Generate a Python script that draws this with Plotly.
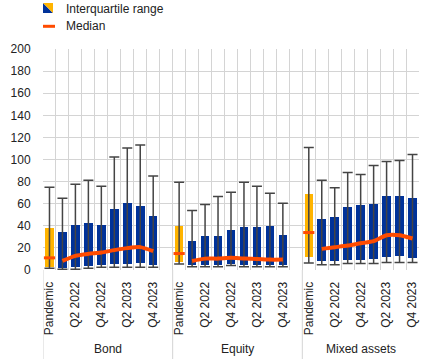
import plotly.graph_objects as go

groups = ["Bond", "Equity", "Mixed assets"]
periods = ["Pandemic", "Q1 2022", "Q2 2022", "Q3 2022", "Q4 2022",
           "Q1 2023", "Q2 2023", "Q3 2023", "Q4 2023"]
shown_labels = ["Pandemic", "Q2 2022", "Q4 2022", "Q2 2023", "Q4 2023"]

# Bond
bond_q1 = [3, 1.5, 2.4, 3.3, 4.3, 5.2, 5.2, 6.1, 4.3]
bond_q3 = [38, 34, 40.5, 42.3, 40.5, 55, 60.6, 57.8, 48.7]
bond_lo = [1.5, 0.6, 0.6, 1.5, 2.4, 2.4, 2.4, 2.4, 2.4]
bond_hi = [75, 65, 77.6, 81.2, 75.8, 102.2, 110.5, 113.2, 85]
bond_med = [11, 8.2, 12.8, 14.6, 15.8, 18, 19.8, 20.7, 17]

# Equity
eq_q1 = [7.6, 4.6, 4.6, 4.6, 5.2, 4.6, 4.6, 4.6, 4.6]
eq_q3 = [39.6, 25.9, 30.4, 30.4, 35.9, 38.6, 38.6, 39.6, 31.3]
eq_lo = [5.5, 3, 3, 3, 4, 3, 3, 3, 3]
eq_hi = [79.4, 53.9, 59.3, 66.6, 70.3, 79.4, 75.8, 69.4, 60.3]
eq_med = [14.9, 8.2, 10.3, 10.3, 11, 10.3, 10, 9.4, 9.4]

# Mixed assets
mx_q1 = [11.5, 7.9, 7.9, 9.1, 9.1, 10, 11.5, 12.4, 10.6]
mx_q3 = [68.5, 45.8, 47.6, 56.7, 58.5, 59.4, 66.7, 66.7, 64.8]
mx_lo = [6.4, 4.8, 4.8, 5.8, 5.8, 5.8, 6.7, 6.7, 6.7]
mx_hi = [110.9, 81.2, 74.5, 88.2, 86.4, 94.5, 98.2, 99.1, 104.5]
mx_med = [33.9, 19.1, 20.6, 22.1, 24.2, 26.1, 31.5, 31.5, 28.5]

data = [(bond_q1, bond_q3, bond_lo, bond_hi, bond_med),
        (eq_q1, eq_q3, eq_lo, eq_hi, eq_med),
        (mx_q1, mx_q3, mx_lo, mx_hi, mx_med)]

BLUE = "#003299"
YELLOW = "#FFB400"
ORANGE = "#FF4B00"
GRID = "#d4d4d4"
WHISK = "#444444"
TXT = "#222222"

stride = len(periods) + 1  # one blank slot between groups

fig = go.Figure()

xs, bases, heights, colors = [], [], [], []
wx, wbase, wup, wdown = [], [], [], []
pand_x, pand_y = [], []
tickvals, ticktext = [], []
for g, (q1, q3, lo, hi, med) in enumerate(data):
    off = g * stride
    for i, p in enumerate(periods):
        x = off + i
        xs.append(x)
        bases.append(q1[i])
        heights.append(q3[i] - q1[i])
        colors.append(YELLOW if i == 0 else BLUE)
        wx.append(x)
        wbase.append(q1[i])
        wup.append(hi[i] - q1[i])
        wdown.append(q1[i] - lo[i])
        if p in shown_labels:
            tickvals.append(x)
            ticktext.append(p)
    pand_x.append(off)
    pand_y.append(med[0])

fig.add_trace(go.Bar(x=xs, y=heights, base=bases, marker=dict(color=colors, line=dict(width=0)),
                     width=0.66, showlegend=False, hoverinfo="skip"))
fig.add_trace(go.Scatter(x=wx, y=wbase, mode="markers", marker=dict(opacity=0, size=1),
                         error_y=dict(type="data", symmetric=False, array=wup, arrayminus=wdown,
                                      color=WHISK, thickness=1.5, width=5),
                         showlegend=False, hoverinfo="skip"))
for g, (q1, q3, lo, hi, med) in enumerate(data):
    off = g * stride
    fig.add_trace(go.Scatter(x=[off + i for i in range(1, len(periods))], y=med[1:],
                             mode="lines", line=dict(color=ORANGE, width=4, shape="spline", smoothing=0.6),
                             showlegend=False, hoverinfo="skip"))
fig.add_trace(go.Scatter(x=pand_x, y=pand_y, mode="markers",
                         marker=dict(symbol="line-ew", size=8, line=dict(width=3, color=ORANGE)),
                         showlegend=False, hoverinfo="skip"))

W, H = 437, 359
L, R, T, B = 43, 18, 49, 89
pw, ph = W - L - R, H - T - B

def px(x):
    return (x - L) / pw

def py(y):
    return (H - B - y) / ph

shapes = []
# separators below axis
for xv in [-0.5, stride - 0.5, 2 * stride - 0.5]:
    shapes.append(dict(type="line", xref="x", yref="paper", x0=xv, x1=xv, y0=0, y1=py(H),
                       line=dict(color=GRID, width=1)))
# legend icon
x0, x1 = px(43), px(53)
yt, yb = py(3), py(13)
shapes.append(dict(type="path", xref="paper", yref="paper",
                   path=f"M {x0} {yt} L {x0} {yb} L {x1} {yb} Z", fillcolor=BLUE, line=dict(width=0)))
shapes.append(dict(type="path", xref="paper", yref="paper",
                   path=f"M {x0} {yt} L {x1} {yt} L {x1} {yb} Z", fillcolor=YELLOW, line=dict(width=0)))
shapes.append(dict(type="line", xref="paper", yref="paper", x0=px(43), x1=px(55), y0=py(26.3), y1=py(26.3),
                   line=dict(color=ORANGE, width=3)))

annotations = [
    dict(text="Interquartile range", xref="paper", yref="paper", x=px(64), y=py(8.5),
         xanchor="left", yanchor="middle", showarrow=False, font=dict(size=12, color=TXT)),
    dict(text="Median", xref="paper", yref="paper", x=px(64), y=py(26.5),
         xanchor="left", yanchor="middle", showarrow=False, font=dict(size=12, color=TXT)),
]
group_centers = [4.5, stride + 4.5, 2 * stride + 4]
for gname, gc in zip(groups, group_centers):
    annotations.append(dict(text=gname, xref="x", yref="paper", x=gc, y=py(349),
                            xanchor="center", yanchor="middle", showarrow=False,
                            font=dict(size=12, color=TXT)))

fig.update_layout(
    width=W, height=H,
    margin=dict(l=L, r=R, t=T, b=B, pad=0),
    plot_bgcolor="white", paper_bgcolor="white",
    font=dict(family="Liberation Sans, Arial, sans-serif", size=12, color=TXT),
    showlegend=False,
    shapes=shapes, annotations=annotations,
    bargap=0,
)
fig.update_xaxes(range=[-0.5, 3 * stride - 1.5], tickmode="array", tickvals=tickvals, ticktext=ticktext,
                 tickangle=-90, showgrid=False, zeroline=False, showline=False,
                 ticks="outside", ticklen=6, tickcolor="rgba(0,0,0,0)",
                 minor=dict(tick0=-0.5, dtick=1, showgrid=True, gridcolor=GRID, gridwidth=1, ticks=""),
                 tickfont=dict(size=12, color=TXT))
fig.update_yaxes(range=[0, 200], dtick=20, showgrid=True, gridcolor=GRID, gridwidth=1,
                 zeroline=False, showline=False, ticks="outside", ticklen=9,
                 tickcolor="rgba(0,0,0,0)", tickfont=dict(size=12, color=TXT))

fig.write_html("out.html", config={"displayModeBar": False},
               post_script="document.body.style.margin='0';document.body.style.overflow='hidden';")
